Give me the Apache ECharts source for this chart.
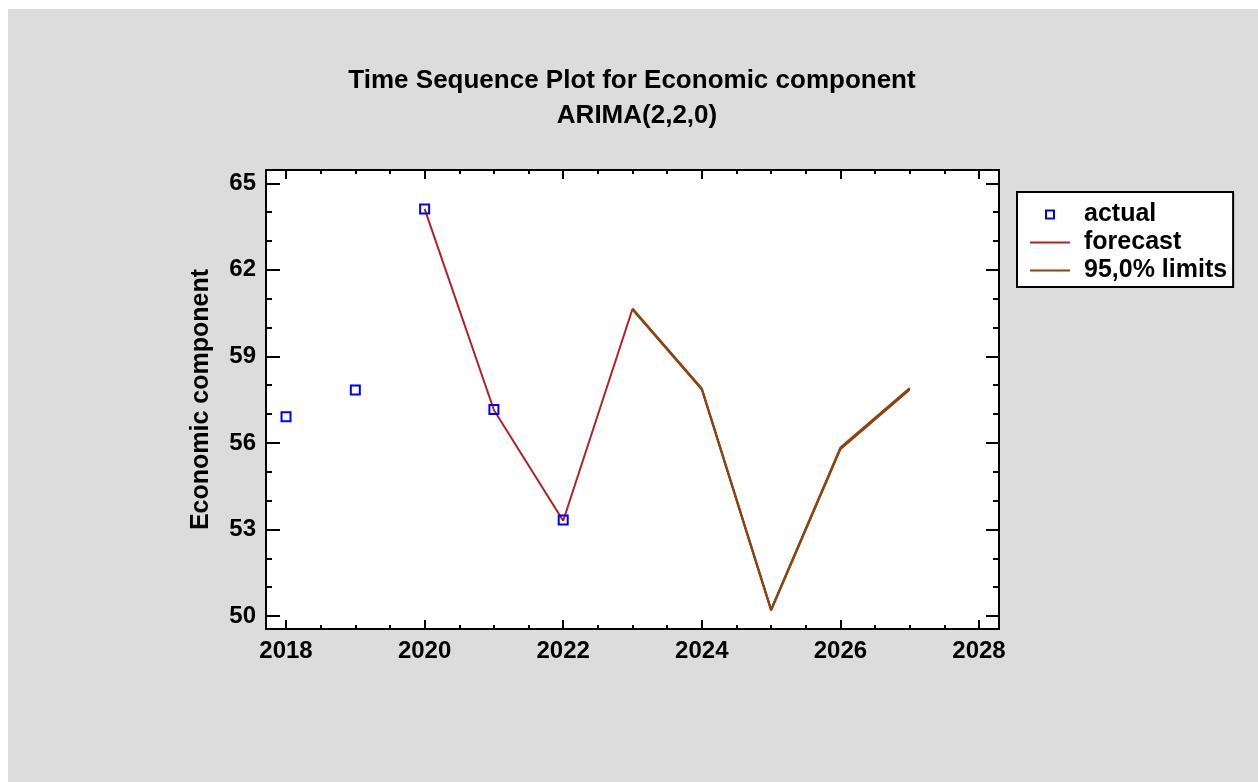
<!DOCTYPE html>
<html>
<head>
<meta charset="utf-8">
<script src="https://cdn.jsdelivr.net/npm/echarts@6/dist/echarts.min.js"></script>
<style>
html,body{margin:0;padding:0;background:#ffffff;}
#chart{width:1258px;height:782px;}
</style>
</head>
<body>
<div id="chart"></div>
<script>
// ---- data ----
const years = [2018, 2019, 2020, 2021, 2022, 2023, 2024, 2025, 2026, 2027];
const actual   = [56.91, 57.83, 64.11, 57.16, 53.33, null, null, null, null, null];
const forecast = [null, null, 64.11, 57.14, 53.30, 60.64, 57.87, 50.21, 55.81, 57.87];
const upper95  = [null, null, null, null, null, 60.66, 57.89, 50.23, 55.84, 57.90];
const lower95  = [null, null, null, null, null, 60.62, 57.85, 50.19, 55.78, 57.84];
const xMajorTicks = [2018, 2020, 2022, 2024, 2026, 2028];
const xMinorTicks = [2018.5, 2019, 2019.5, 2020.5, 2021, 2021.5, 2022.5, 2023, 2023.5, 2024.5, 2025, 2025.5, 2026.5, 2027, 2027.5];
const yMajorTicks = [50, 53, 56, 59, 62, 65];
const yMinorTicks = [51, 52, 54, 55, 57, 58, 60, 61, 63, 64];
const titleText = 'Time Sequence Plot for Economic component';
const subtitleText = 'ARIMA(2,2,0)';
const yName = 'Economic component';

const pairs = (vals) => years.map((y, i) => [y, vals[i]]).filter(p => p[1] !== null);

const FONT = "'Liberation Sans', Arial, Helvetica, sans-serif";
const X_MIN = 2017.711, X_MAX = 2028.289, Y_MIN = 49.55, Y_MAX = 65.46;

function xAx(pos, ticks, len, labels, line) {
  return {
    type: 'value', position: pos, min: X_MIN, max: X_MAX,
    axisLine: { show: line, onZero: false, lineStyle: { color: '#000', width: 2 } },
    axisTick: { show: true, inside: true, length: len, customValues: ticks, lineStyle: { color: '#000', width: 2 } },
    axisLabel: labels ? { show: true, customValues: ticks, margin: 10, color: '#000', fontSize: 24, fontWeight: 'bold', fontFamily: FONT, formatter: v => String(Math.round(v)) } : { show: false },
    splitLine: { show: false }
  };
}
function yAx(pos, ticks, len, labels, line, name) {
  const o = {
    type: 'value', position: pos, min: Y_MIN, max: Y_MAX,
    axisLine: { show: line, onZero: false, lineStyle: { color: '#000', width: 2 } },
    axisTick: { show: true, inside: true, length: len, customValues: ticks, lineStyle: { color: '#000', width: 2 } },
    axisLabel: labels ? { show: true, customValues: ticks, margin: 10, color: '#000', fontSize: 24, fontWeight: 'bold', fontFamily: FONT, formatter: v => String(Math.round(v)) } : { show: false },
    splitLine: { show: false }
  };
  if (name) {
    o.name = name; o.nameLocation = 'middle'; o.nameGap = 52;
    o.nameTextStyle = { color: '#000', fontSize: 25, fontWeight: 'bold', fontFamily: FONT };
  }
  return o;
}

const chart = echarts.init(document.getElementById('chart'), null, { renderer: 'canvas' });
chart.setOption({
  animation: false,
  backgroundColor: '#ffffff',
  graphic: [{ type: 'rect', z: -100, silent: true, shape: { x: 8, y: 9, width: 1250, height: 773 }, style: { fill: '#dcdcdc' } }],
  title: [
    { text: titleText, left: 627, top: 63, textAlign: 'center',
      textStyle: { color: '#000', fontSize: 26, fontWeight: 'bold', fontFamily: FONT } },
    { text: subtitleText, left: 632, top: 98, textAlign: 'center',
      textStyle: { color: '#000', fontSize: 26, fontWeight: 'bold', fontFamily: FONT } }
  ],
  legend: {
    orient: 'vertical', left: 1017, top: 192,
    backgroundColor: '#fff', borderColor: '#000', borderWidth: 2,
    padding: [9, 6, 3, 12], itemWidth: 40, itemHeight: 10, itemGap: 1,
    textStyle: { color: '#000', fontSize: 25, fontWeight: 'bold', fontFamily: FONT, lineHeight: 27, padding: [0, 0, 0, 9] },
    data: [
      { name: 'actual', lineStyle: { opacity: 0 } },
      { name: 'forecast', itemStyle: { opacity: 0 } },
      { name: '95,0% limits', itemStyle: { opacity: 0 } }
    ]
  },
  grid: { left: 266, right: 259, top: 170, bottom: 153, show: true, backgroundColor: '#fff', borderWidth: 0 },
  xAxis: [
    xAx('bottom', xMajorTicks, 9, true, true),
    xAx('bottom', xMinorTicks, 4, false, false),
    xAx('top', xMajorTicks, 9, false, true),
    xAx('top', xMinorTicks, 4, false, false)
  ],
  yAxis: [
    yAx('left', yMajorTicks, 14, true, true, yName),
    yAx('left', yMinorTicks, 6, false, false),
    yAx('right', yMajorTicks, 13, false, true),
    yAx('right', yMinorTicks, 6, false, false)
  ],
  series: [
    { name: 'forecast', type: 'line', xAxisIndex: 0, yAxisIndex: 0, data: pairs(forecast), showSymbol: false, symbol: 'none',
      lineStyle: { color: '#b22222', width: 2 }, itemStyle: { color: '#b22222' }, z: 2 },
    { name: '95,0% limits', type: 'line', xAxisIndex: 0, yAxisIndex: 0, data: pairs(upper95), symbol: 'none',
      lineStyle: { color: '#8b4513', width: 2 }, itemStyle: { color: '#8b4513' }, z: 3 },
    { name: '95,0% limits', type: 'line', xAxisIndex: 0, yAxisIndex: 0, data: pairs(lower95), symbol: 'none',
      lineStyle: { color: '#8b4513', width: 2 }, itemStyle: { color: '#8b4513' }, z: 3 },
    { name: 'actual', type: 'line', xAxisIndex: 0, yAxisIndex: 0, data: pairs(actual), symbol: 'rect', symbolSize: 9, showAllSymbol: true,
      lineStyle: { width: 0, opacity: 0 }, itemStyle: { color: 'rgba(255,255,255,0)', borderColor: '#0000ff', borderWidth: 2 }, z: 4 }
  ]
});
</script>
</body>
</html>
